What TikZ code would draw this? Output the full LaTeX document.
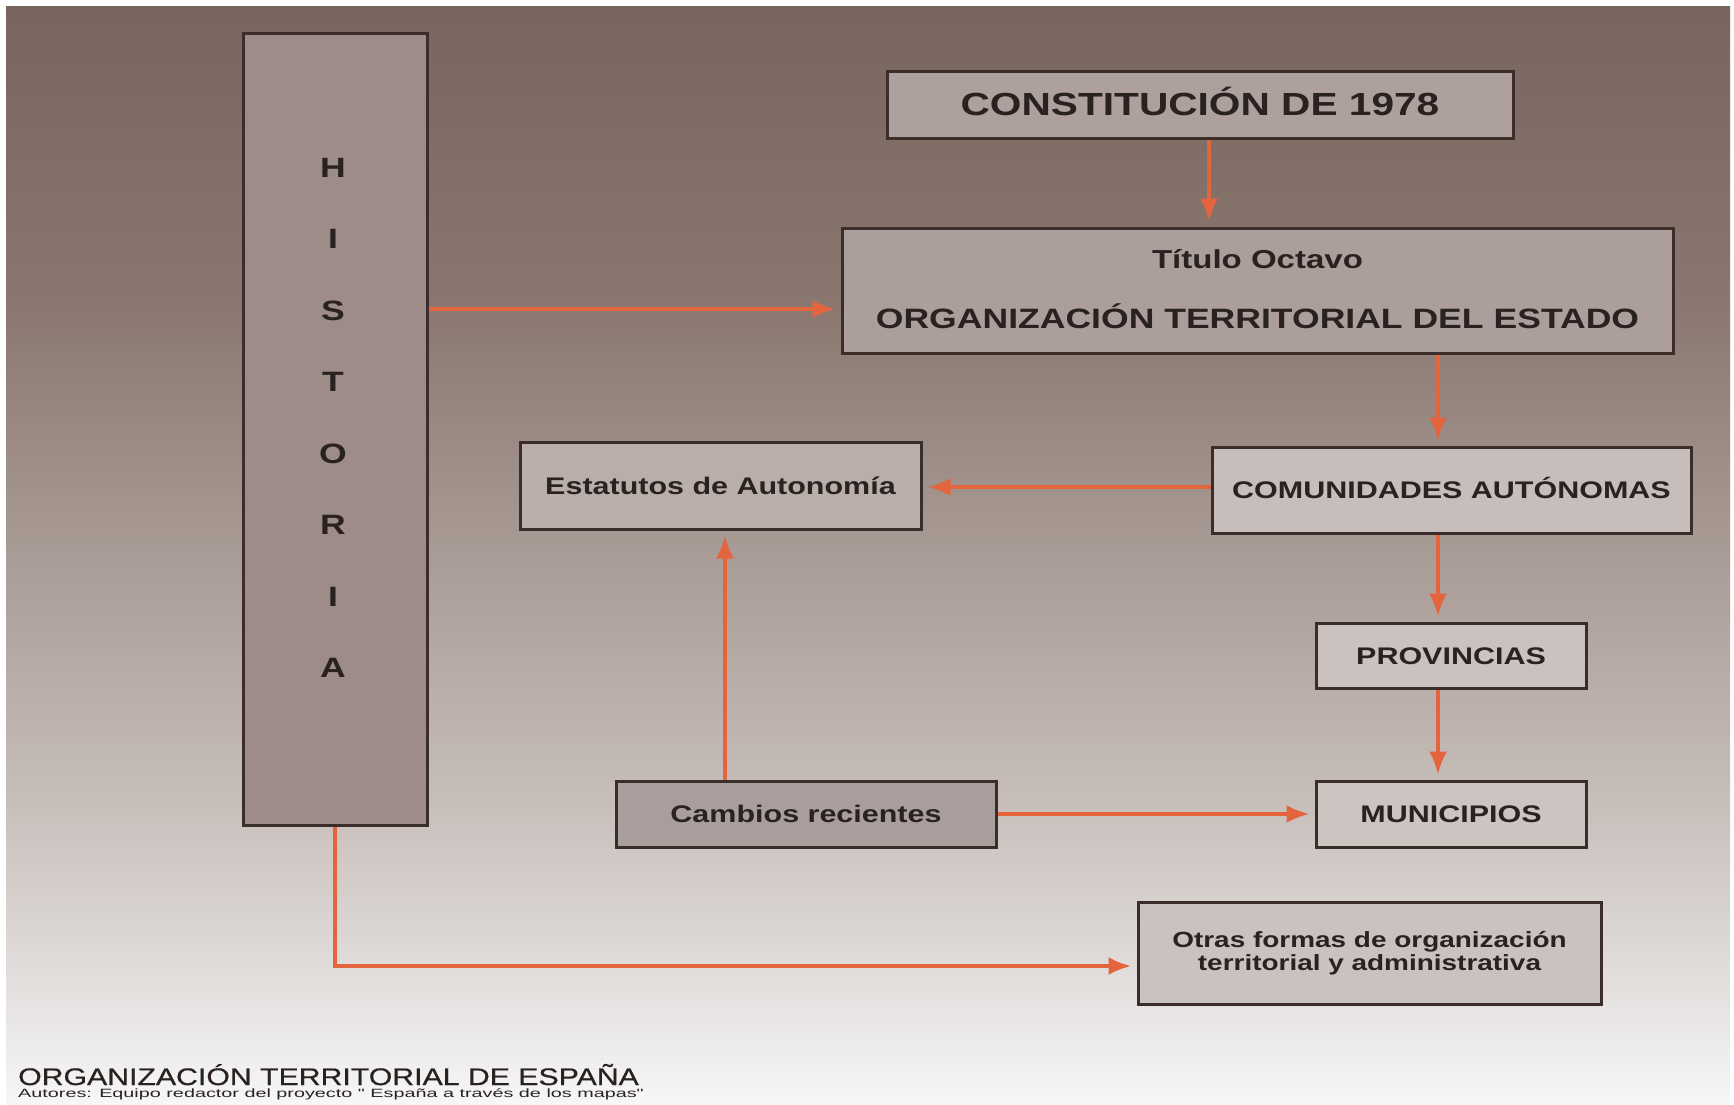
\documentclass[tikz,border=0pt]{standalone}
\usepackage{fontspec}
\setmainfont{Liberation Sans}[FakeStretch=1.27]
\newfontfamily\mapafont{Liberation Sans}[FakeStretch=1.26,FakeBold=0.6]
\newfontfamily\autorfont{Liberation Sans}[FakeStretch=1.65]
\usetikzlibrary{arrows.meta}

\definecolor{fondoA}{HTML}{77655E}
\definecolor{fondoB}{HTML}{8A7870}
\definecolor{fondoC}{HTML}{A99B95}
\definecolor{fondoD}{HTML}{C8BFBB}
\definecolor{fondoE}{HTML}{E6E3E2}
\definecolor{fondoF}{HTML}{F7F7F7}
\definecolor{borde}{HTML}{3B2E2A}
\definecolor{texto}{HTML}{2A2220}
\definecolor{naranja}{HTML}{E4643E}
\definecolor{histfill}{HTML}{9D8C88}
\definecolor{constfill}{HTML}{AEA19D}
\definecolor{titfill}{HTML}{AC9F9B}
\definecolor{estfill}{HTML}{B9AEAA}
\definecolor{comfill}{HTML}{C7BDBA}
\definecolor{provfill}{HTML}{CBC2BF}
\definecolor{munifill}{HTML}{CCC4C1}
\definecolor{cambfill}{HTML}{A99E9B}
\definecolor{otrasfill}{HTML}{C9C2C0}

\pgfdeclareverticalshading{fondo}{100bp}{color(0bp)=(fondoF); color(25bp)=(fondoF);
  color(29.5bp)=(fondoE); color(38.6bp)=(fondoD); color(50bp)=(fondoC);
  color(61.3bp)=(fondoB); color(75bp)=(fondoA); color(100bp)=(fondoA)}

\begin{document}
\begin{tikzpicture}[x=1pt,y=-1pt,
    caja/.style={draw=borde,line width=3pt,inner sep=0pt,text=texto,
      text height=17.2pt,text depth=0pt,font=\bfseries\fontsize{24}{26}\selectfont},
    flecha/.style={draw=naranja,line width=4pt,shorten >=5pt,-{Latex[length=23pt,width=18pt]}},
    letra/.style={text=texto,inner sep=0pt,font=\bfseries\fontsize{28}{30}\selectfont}]

    \useasboundingbox (0,0) rectangle (1734,1104);
    \fill[white] (0,0) rectangle (1734,1104);
    \shade[shading=fondo] (6,6) rectangle (1730,1104);

    \node[caja,fill=histfill,minimum width=184pt,minimum height=792pt] (historia) at (335,429) {};
    \foreach \l [count=\i] in {H,I,S,T,O,R,I,A}
        \node[letra] (letra\i) at (333,96+71.5*\i) {\l};

    \node[caja,fill=constfill,minimum width=626pt,minimum height=67pt,text height=22.9pt,
        font=\bfseries\fontsize{32}{34}\selectfont] (constitucion) at (1200,104.5) {CONSTITUCIÓN DE 1978};

    \node[caja,fill=titfill,minimum width=831pt,minimum height=125pt] (titulo) at (1257.5,290.5) {};
    \node[anchor=base,inner sep=0pt,text=texto,font=\bfseries\fontsize{26}{28}\selectfont]
        (titulo-a) at ([yshift=22.5pt]titulo.center) {Título Octavo};
    \node[anchor=base,inner sep=0pt,text=texto,font=\bfseries\fontsize{28}{30}\selectfont]
        (titulo-b) at ([yshift=-37.5pt]titulo.center) {ORGANIZACIÓN TERRITORIAL DEL ESTADO};

    \node[caja,fill=estfill,minimum width=401pt,minimum height=87pt] (estatutos) at (720.5,485.5) {Estatutos de Autonomía};
    \node[caja,fill=comfill,minimum width=479pt,minimum height=86pt] (comunidades) at (1451.5,490) {COMUNIDADES AUTÓNOMAS};
    \node[caja,fill=provfill,minimum width=270pt,minimum height=65pt] (provincias) at (1451,655.5) {PROVINCIAS};
    \node[caja,fill=munifill,minimum width=270pt,minimum height=66pt] (municipios) at (1451,814) {MUNICIPIOS};
    \node[caja,fill=cambfill,minimum width=380pt,minimum height=66pt] (cambios) at (806,814) {Cambios recientes};
    \node[caja,fill=otrasfill,minimum width=463pt,minimum height=102pt,align=center,
        text height=,text depth=,font=\bfseries\fontsize{22}{23}\selectfont]
        (otras) at (1369.5,953) {Otras formas de organización\\territorial y administrativa};

    \draw[flecha] ([xshift=9pt]constitucion.south) -- ([xshift=9pt]constitucion.south |- titulo.north);
    \draw[flecha] ([yshift=-18.5pt]titulo.west -| historia.east) -- ([yshift=-18.5pt]titulo.west);
    \draw[flecha] ([xshift=-13.5pt]comunidades.north |- titulo.south) -- ([xshift=-13.5pt]comunidades.north);
    \draw[flecha] ([yshift=3pt]comunidades.west) -- ([yshift=3pt]comunidades.west -| estatutos.east);
    \draw[flecha] ([xshift=-13pt]provincias.north |- comunidades.south) -- ([xshift=-13pt]provincias.north);
    \draw[flecha] ([xshift=-13pt]provincias.south) -- ([xshift=-13pt]municipios.north);
    \draw[flecha] ([xshift=4.5pt]cambios.north -| estatutos.south) -- ([xshift=4.5pt]estatutos.south);
    \draw[flecha] (cambios.east) -- (municipios.west);
    \draw[flecha] (historia.south) |- ([yshift=-13pt]otras.west);

    \node[anchor=base west,inner sep=0pt,text=texto,font=\mapafont\fontsize{24}{26}\selectfont]
        (titulo-mapa) at (18,1085) {ORGANIZACIÓN TERRITORIAL DE ESPAÑA};
    \node[anchor=base west,inner sep=0pt,text=texto,font=\autorfont\fontsize{12}{13}\selectfont]
        (autores) at (18,1097) {Autores: Equipo redactor del proyecto " España a través de los mapas"};
\end{tikzpicture}
\end{document}
